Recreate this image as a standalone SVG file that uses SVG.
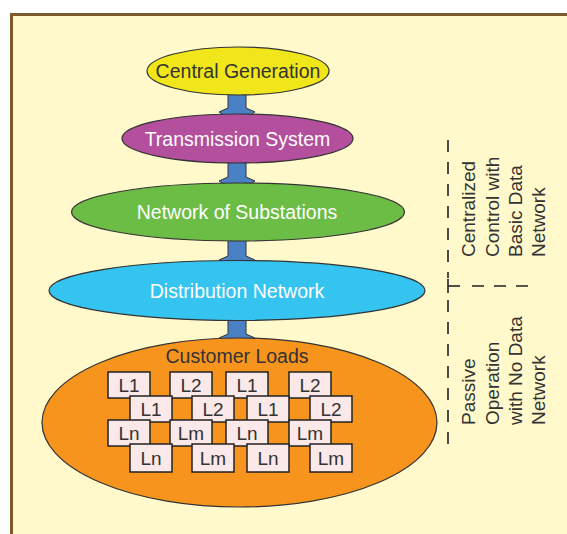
<svg xmlns="http://www.w3.org/2000/svg" width="567" height="534" viewBox="0 0 567 534">
<style>
text{font-family:"Liberation Sans",Arial,sans-serif;}
.lbl{font-size:19.5px;text-anchor:middle;}
.dark{fill:#333;}
.light{fill:#fff;}
.node{stroke:#333;stroke-width:1.2;}
.arrow{fill:#4a80c4;stroke:#333;stroke-width:1;}
.box rect{fill:#fbe8e8;stroke:#222;stroke-width:1.5;}
.box text{font-size:19px;text-anchor:middle;fill:#333;}
.side{font-size:19px;fill:#333;}
.dash{stroke:#222;stroke-width:1.6;fill:none;stroke-dasharray:12 10;}
</style>
<rect x="0" y="0" width="567" height="534" fill="#fff"/>
<rect x="11.5" y="14.5" width="570" height="540" fill="#fff9cc" stroke="#7d5a2e" stroke-width="3"/>

<g id="connectors">
  <polygon class="arrow" points="228,94 246,94 246,108 255,112 237,124 219,112 228,108"/>
  <polygon class="arrow" points="228,162 246,162 246,177 255,181 237,193 219,181 228,177"/>
  <polygon class="arrow" points="228,240 246,240 246,256 255,260 237,272 219,260 228,256"/>
  <polygon class="arrow" points="228,320 246,320 246,334 255,338 237,350 219,338 228,334"/>
</g>

<g id="central-generation">
  <ellipse class="node" cx="238" cy="71" rx="91" ry="24" fill="#f0e619"/>
  <text class="lbl dark" x="238" y="78">Central Generation</text>
</g>
<g id="transmission-system">
  <ellipse class="node" cx="237.5" cy="138.5" rx="115.5" ry="24.5" fill="#b34f9c"/>
  <text class="lbl light" x="237.5" y="145.5">Transmission System</text>
</g>
<g id="network-of-substations">
  <ellipse class="node" cx="238" cy="212" rx="166.5" ry="29" fill="#6cbd45"/>
  <text class="lbl light" x="237" y="219">Network of Substations</text>
</g>
<g id="distribution-network">
  <ellipse class="node" cx="237" cy="290.5" rx="188" ry="30" fill="#35c3ef"/>
  <text class="lbl light" x="237" y="297.5">Distribution Network</text>
</g>
<g id="customer-loads">
  <ellipse class="node" cx="239.5" cy="422.5" rx="197.5" ry="84.5" fill="#f7941d"/>
  <text class="lbl dark" x="237" y="363">Customer Loads</text>
  <g class="box">
    <rect x="108" y="372" width="42" height="26"/><text x="129" y="392">L1</text>
    <rect x="170" y="372" width="42" height="26"/><text x="191" y="392">L2</text>
    <rect x="226" y="372" width="42" height="26"/><text x="247" y="392">L1</text>
    <rect x="289" y="372" width="42" height="26"/><text x="310" y="392">L2</text>
    <rect x="130" y="396" width="42" height="26"/><text x="151" y="416">L1</text>
    <rect x="192" y="396" width="42" height="26"/><text x="213" y="416">L2</text>
    <rect x="247" y="396" width="42" height="26"/><text x="268" y="416">L1</text>
    <rect x="310" y="396" width="42" height="26"/><text x="331" y="416">L2</text>
    <rect x="108" y="420" width="42" height="26"/><text x="129" y="440">Ln</text>
    <rect x="170" y="420" width="42" height="26"/><text x="191" y="440">Lm</text>
    <rect x="226" y="420" width="42" height="26"/><text x="247" y="440">Ln</text>
    <rect x="289" y="420" width="42" height="26"/><text x="310" y="440">Lm</text>
    <rect x="130" y="444" width="42" height="28"/><text x="151" y="465">Ln</text>
    <rect x="192" y="444" width="42" height="28"/><text x="213" y="465">Lm</text>
    <rect x="247" y="444" width="42" height="28"/><text x="268" y="465">Ln</text>
    <rect x="310" y="444" width="42" height="28"/><text x="331" y="465">Lm</text>
  </g>
</g>

<g id="divider">
  <line class="dash" x1="448" y1="140" x2="448" y2="278"/>
  <line x1="448" y1="279" x2="448" y2="293" stroke="#222" stroke-width="1.6"/>
  <line x1="448" y1="286" x2="460" y2="286" stroke="#222" stroke-width="1.6"/>
  <line class="dash" x1="472" y1="286" x2="532" y2="286"/>
  <line class="dash" x1="448" y1="300" x2="448" y2="452"/>
</g>

<g id="label-centralized" transform="translate(0,257)">
  <text class="side" transform="translate(475,0) rotate(-90)">Centralized</text>
  <text class="side" transform="translate(498.5,0) rotate(-90)">Control with</text>
  <text class="side" transform="translate(522,0) rotate(-90)">Basic Data</text>
  <text class="side" transform="translate(545,0) rotate(-90)">Network</text>
</g>
<g id="label-passive" transform="translate(0,425)">
  <text class="side" transform="translate(475,0) rotate(-90)">Passive</text>
  <text class="side" transform="translate(498.5,0) rotate(-90)">Operation</text>
  <text class="side" transform="translate(522,0) rotate(-90)">with No Data</text>
  <text class="side" transform="translate(545,0) rotate(-90)">Network</text>
</g>
</svg>
